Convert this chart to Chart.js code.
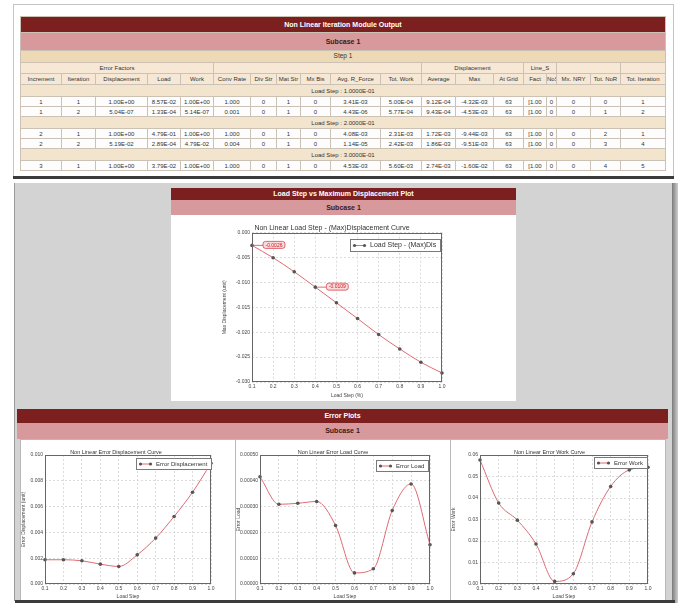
<!DOCTYPE html>
<html>
<head>
<meta charset="utf-8">
<script src="https://cdn.jsdelivr.net/npm/chart.js@4.4.1/dist/chart.umd.min.js"></script>
<style>
body{margin:0;width:686px;height:615px;background:#fff;position:relative;overflow:hidden;font-family:"Liberation Sans",Arial,sans-serif;}
.abs{position:absolute;}
#topBox{left:13px;top:4px;width:659px;height:173px;border:1px solid #c4c4c4;border-bottom:none;background:#fff;overflow:hidden;}
#tbl{position:absolute;left:6px;top:11px;width:645px;border-collapse:collapse;table-layout:fixed;font-size:6px;color:#333;}
#tbl td{border:1px solid #cbc2b5;padding:0;text-align:center;white-space:nowrap;overflow:hidden;line-height:1;}
.bar1{background:#7b1f1f;color:#fff;font-weight:bold;font-size:7px;text-align:center;}
.bar2{background:#d7999b;color:#3a1a1a;font-weight:bold;font-size:7px;text-align:center;}
.bar3{background:#eed9b6;font-size:6.5px;}
.hdr{background:#f6e8d4;}
.ls{background:#f3e4cd;}
.dat{background:#fdfdfd;}
.tear{background:#3b3b3b;filter:blur(0.6px);}
.panel{background:#fff;border:1px solid #b9b9b9;box-sizing:border-box;}
canvas{position:absolute;}
</style>
</head>
<body>

<div class="abs" id="topBox">
  <table id="tbl"></table>
</div>
<div class="abs tear" style="left:13px;top:176px;width:661px;height:3px"></div>

<!-- zone grise du graphe deslocamento -->
<div class="abs" style="left:14px;top:183px;width:658px;height:418px;background:#d3d3d3;border-left:1px solid #9a9a9a"></div>
<div class="abs" style="left:672px;top:183px;width:6px;height:420px;background:linear-gradient(to right,#7a7a7a,#cfcfcf)"></div>

<div class="abs bar1" style="left:171px;top:188px;width:345px;height:12px;line-height:12px">Load Step vs Maximum Displacement Plot</div>
<div class="abs bar2" style="left:171px;top:200px;width:345px;height:15px;line-height:15px">Subcase 1</div>
<div class="abs" style="left:171px;top:215px;width:345px;height:186px;background:#fff"></div>
<canvas id="maxDispChart" width="345" height="186" style="left:171px;top:215px"></canvas>

<!-- error plots -->
<div class="abs bar1" style="left:17px;top:409px;width:651px;height:14px;line-height:14px">Error Plots</div>
<div class="abs bar2" style="left:17px;top:423px;width:651px;height:16px;line-height:16px">Subcase 1</div>
<div class="abs panel" style="left:20px;top:439px;width:216px;height:164px"></div>
<div class="abs panel" style="left:235px;top:439px;width:216px;height:164px"></div>
<div class="abs panel" style="left:450px;top:439px;width:216px;height:164px"></div>
<canvas id="errDispChart" width="213" height="162" style="left:21px;top:440px"></canvas>
<canvas id="errLoadChart" width="214" height="162" style="left:236px;top:440px"></canvas>
<canvas id="errWorkChart" width="214" height="162" style="left:451px;top:440px"></canvas>
<div class="abs tear" style="left:15px;top:600px;width:660px;height:4px"></div>
<div class="abs" style="left:0;top:603px;width:686px;height:12px;background:#fff"></div>

<script>
// ---- données ----
const loadSteps = ['0.1', '0.2', '0.3', '0.4', '0.5', '0.6', '0.7', '0.8', '0.9', '1.0'];
const maxDisp = [-0.00255, -0.00503, -0.00785, -0.01094, -0.01409, -0.01725, -0.02047, -0.02336, -0.02604, -0.02819];
const errDisp = [0.00188, 0.00188, 0.00180, 0.00154, 0.00136, 0.00226, 0.00356, 0.00524, 0.00712, 0.00936];
const errLoad = [0.000416, 0.000309, 0.000313, 0.000320, 0.000227, 0.000043, 0.000059, 0.000285, 0.000388, 0.000152];
const errWork = [0.0577, 0.0377, 0.0297, 0.0186, 0.0012, 0.0048, 0.0289, 0.0454, 0.0531, 0.0543];

const colWidths = [41, 34, 52, 33, 33, 37, 26, 24, 30, 50, 41, 34, 38, 30, 23, 10, 34, 30, 45];
const groupHeaders = [['Error Factors', 5], ['', 6], ['Displacement', 3], ['Line_S', 2], ['', 2], ['', 1]];
const colHeaders = ['Increment', 'Iteration', 'Displacement', 'Load', 'Work', 'Conv Rate', 'Div Str', 'Mat Str', 'Mx Bis',
    'Avg. R_Force', 'Tot. Work', 'Average', 'Max', 'At Grid', 'Fact', 'NoSt', 'Mx. NRY', 'Tot. NoR', 'Tot. Iteration'];
const tableRows = [
    ['Load Step : 1.0000E-01'],
    ['1', '1', '1.00E+00', '8.57E-02', '1.00E+00', '1.000', '0', '1', '0', '3.41E-03', '5.00E-04', '9.12E-04', '-4.32E-03', '63', '[1.00', '0', '0', '0', '1'],
    ['1', '2', '5.04E-07', '1.33E-04', '5.14E-07', '0.001', '0', '1', '0', '4.43E-06', '5.77E-04', '9.43E-04', '-4.53E-03', '63', '[1.00', '0', '0', '1', '2'],
    ['Load Step : 2.0000E-01'],
    ['2', '1', '1.00E+00', '4.79E-01', '1.00E+00', '1.000', '0', '1', '0', '4.08E-03', '2.31E-03', '1.72E-03', '-9.44E-03', '63', '[1.00', '0', '0', '2', '1'],
    ['2', '2', '5.19E-02', '2.89E-04', '4.79E-02', '0.004', '0', '1', '0', '1.14E-05', '2.42E-03', '1.86E-03', '-9.51E-03', '63', '[1.00', '0', '0', '3', '4'],
    ['Load Step : 3.0000E-01'],
    ['3', '1', '1.00E+00', '3.79E-02', '1.00E+00', '1.000', '0', '1', '0', '4.53E-03', '5.60E-03', '2.74E-03', '-1.60E-02', '63', '[1.00', '0', '0', '4', '5']
];

// ---- tableau ----
const tbl = document.getElementById('tbl');
let html = '<colgroup>' + colWidths.map(w => `<col style="width:${w}px">`).join('') + '</colgroup>';
html += '<tr style="height:16px"><td class="bar1" colspan="19">Non Linear Iteration Module Output</td></tr>';
html += '<tr style="height:18px"><td class="bar2" colspan="19">Subcase 1</td></tr>';
html += '<tr style="height:12px"><td class="bar3" colspan="19">Step 1</td></tr>';
html += '<tr class="hdr" style="height:11px">' + groupHeaders.map(g => `<td colspan="${g[1]}">${g[0]}</td>`).join('') + '</tr>';
html += '<tr class="hdr" style="height:11px">' + colHeaders.map(h => `<td>${h}</td>`).join('') + '</tr>';
tableRows.forEach(r => {
    if (r.length === 1) {
        html += `<tr class="ls" style="height:12px"><td colspan="19">${r[0]}</td></tr>`;
    } else {
        html += '<tr class="dat" style="height:10px">' + r.map(c => `<td>${c}</td>`).join('') + '</tr>';
    }
});
tbl.innerHTML = html;

// ---- graphiques ----
Chart.defaults.font.family = '"Liberation Sans", Arial, sans-serif';
const lineRed = '#de6a72';

// cadre + légende dans la zone de tracé
const framePlugin = {
    id: 'frame',
    afterDraw(chart, args, opts) {
        const { ctx, chartArea: a } = chart;
        const ds = chart.data.datasets[0];
        ctx.save();
        ctx.strokeStyle = '#666';
        ctx.lineWidth = 1;
        ctx.strokeRect(Math.round(a.left) + 0.5, Math.round(a.top) + 0.5, Math.round(a.width) - 1, Math.round(a.height) - 1);

        ctx.font = opts.fontSize + 'px "Liberation Sans", Arial';
        const tw = ctx.measureText(ds.label).width;
        const w = Math.round(tw + 24), h = opts.fontSize + 5;
        const x = Math.round(a.right + opts.dx - w), y = Math.round(a.top + opts.dy);
        ctx.fillStyle = '#fff';
        ctx.fillRect(x, y, w, h);
        ctx.strokeStyle = '#7a7a7a';
        ctx.strokeRect(x + 0.5, y + 0.5, w, h);
        const sy = y + h / 2 + 0.5;
        ctx.strokeStyle = ds.borderColor;
        ctx.beginPath();
        ctx.moveTo(x + 3, sy);
        ctx.lineTo(x + 16, sy);
        ctx.stroke();
        ctx.fillStyle = '#555';
        [x + 4.5, x + 14.5].forEach(px => {
            ctx.beginPath();
            ctx.arc(px, sy, 1.6, 0, Math.PI * 2);
            ctx.fill();
        });
        ctx.fillStyle = '#333';
        ctx.textBaseline = 'middle';
        ctx.fillText(ds.label, x + 20, sy);
        ctx.restore();
    }
};

// étiquettes rouges sur certains points
const calloutPlugin = {
    id: 'callout',
    afterDatasetsDraw(chart, args, opts) {
        if (!opts.indices) return;
        const ctx = chart.ctx;
        const meta = chart.getDatasetMeta(0);
        const values = chart.data.datasets[0].data;
        ctx.save();
        ctx.font = '5px "Liberation Sans", Arial';
        opts.indices.forEach(i => {
            const pt = meta.data[i];
            const txt = values[i].toFixed(4);
            const tw = ctx.measureText(txt).width;
            const bx = pt.x + 11, by = pt.y - 4, bw = tw + 5, bh = 7;
            ctx.strokeStyle = '#d9434f';
            ctx.lineWidth = 0.8;
            ctx.beginPath();
            ctx.moveTo(pt.x + 2, pt.y);
            ctx.lineTo(bx, pt.y);
            ctx.stroke();
            ctx.beginPath();
            ctx.roundRect(bx, by, bw, bh, 2.5);
            ctx.fillStyle = '#fbdada';
            ctx.fill();
            ctx.stroke();
            ctx.fillStyle = '#c8202c';
            ctx.textBaseline = 'middle';
            ctx.fillText(txt, bx + 2.5, by + bh / 2 + 0.3);
        });
        ctx.restore();
    }
};

function drawCurve(id, c) {
    return new Chart(document.getElementById(id), {
        type: 'line',
        data: {
            labels: loadSteps,
            datasets: [{
                label: c.label,
                data: c.values,
                borderColor: lineRed,
                borderWidth: 1,
                cubicInterpolationMode: 'monotone',
                pointRadius: 1.8,
                pointBackgroundColor: '#555',
                pointBorderColor: '#555',
                pointBorderWidth: 0
            }]
        },
        options: {
            responsive: false,
            animation: false,
            events: [],
            layout: { padding: { left: c.padL, right: c.padR, top: c.padT, bottom: 0 } },
            plugins: {
                legend: { display: false },
                tooltip: { enabled: false },
                title: {
                    display: true, text: c.title, color: '#333',
                    font: { size: c.titleSize, weight: 'normal', lineHeight: 1.1 },
                    padding: { top: 0, bottom: c.titleGap }
                },
                frame: { fontSize: c.legendSize, dx: c.legendDx, dy: c.legendDy },
                callout: { indices: c.callouts }
            },
            scales: {
                x: {
                    grid: { color: '#dcdcdc', drawTicks: false },
                    border: { display: false, dash: [2, 2] },
                    ticks: { font: { size: 5 }, color: '#444', padding: 2, maxRotation: 0, autoSkip: false },
                    title: { display: true, text: c.xTitle, font: { size: 5 }, color: '#444', padding: { top: 0, bottom: 2 } },
                    afterFit: s => { s.height = c.xH; }
                },
                y: {
                    min: c.yMin, max: c.yMax,
                    grid: { color: '#dcdcdc', drawTicks: false },
                    border: { display: false, dash: [2, 2] },
                    ticks: {
                        stepSize: c.yStep, font: { size: 5 }, color: '#444', padding: 2,
                        callback: v => v.toFixed(c.dec)
                    },
                    title: { display: true, text: c.yTitle, font: { size: 5 }, color: '#444', padding: { top: 0, bottom: c.yTitleGap } },
                    afterFit: s => { s.width = c.yW; }
                }
            }
        },
        plugins: [framePlugin, calloutPlugin]
    });
}

drawCurve('maxDispChart', {
    label: 'Load Step - (Max)Dis', values: maxDisp,
    title: 'Non Linear Load Step - (Max)Displacement Curve', titleSize: 7, titleGap: 1,
    xTitle: 'Load Step (%)', yTitle: 'Max Displacement (unit)',
    yMin: -0.03, yMax: 0, yStep: 0.005, dec: 3,
    padL: 51, padR: 74, padT: 9, yW: 30, xH: 19, yTitleGap: 4,
    legendSize: 7, legendDx: -2, legendDy: 6, callouts: [0, 3]
});

drawCurve('errDispChart', {
    label: 'Error Displacement', values: errDisp,
    title: 'Non Linear Error Displacement Curve', titleSize: 5.5, titleGap: 0,
    xTitle: 'Load Step', yTitle: 'Error Displacement (unit)',
    yMin: 0, yMax: 0.01, yStep: 0.002, dec: 3,
    padL: 0, padR: 23, padT: 9, yW: 24, xH: 18, yTitleGap: 1,
    legendSize: 6, legendDx: 0, legendDy: 3
});

drawCurve('errLoadChart', {
    label: 'Error Load', values: errLoad,
    title: 'Non Linear Error Load Curve', titleSize: 5.5, titleGap: 0,
    xTitle: 'Load Step', yTitle: 'Error Load',
    yMin: 0, yMax: 0.0005, yStep: 0.0001, dec: 5,
    padL: 0, padR: 20, padT: 9, yW: 24, xH: 18, yTitleGap: 0,
    legendSize: 6, legendDx: -2, legendDy: 5
});

drawCurve('errWorkChart', {
    label: 'Error Work', values: errWork,
    title: 'Non Linear Error Work Curve', titleSize: 5.5, titleGap: 0,
    xTitle: 'Load Step', yTitle: 'Error Work',
    yMin: 0, yMax: 0.06, yStep: 0.01, dec: 2,
    padL: 0, padR: 17, padT: 9, yW: 29, xH: 18, yTitleGap: 4,
    legendSize: 6, legendDx: -1, legendDy: 2
});
</script>
</body>
</html>
